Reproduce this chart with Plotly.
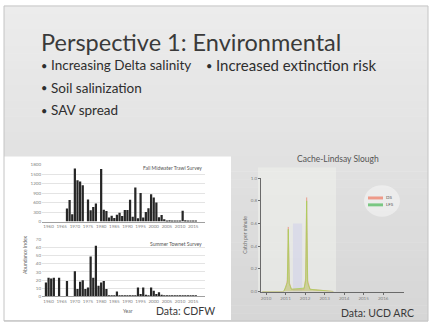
import plotly.graph_objects as go

W, H = 432, 328

# ---- Delta smelt abundance indices (CDFW) ----
fmwt_years = list(range(1967, 2017))
fmwt_index = [414, 680, 230, 1673, 1303, 1265, 1145, 0, 697, 359,
              460, 572, 0, 1654, 374, 333, 132, 182, 110, 212,
              280, 174, 366, 364, 689, 156, 1078, 102, 899, 127,
              303, 420, 864, 756, 603, 139, 210, 74, 26, 41,
              28, 23, 17, 29, 343, 42, 18, 9, 7, 8]

stn_years = list(range(1959, 2017))
stn_index = [17, 23, 22, 23, 0, 23, 0, 0, 19, 0,
             0, 31, 9, 18, 20, 9, 11, 49, 23, 62,
             13, 17, 19, 9, 0.5, 0.5, 0.5, 6, 0.5, 0.5,
             0.5, 0.5, 0.5, 0.5, 0.5, 11, 3, 11, 2, 0.5,
             11, 7, 3, 5, 2, 1.5, 0.5, 0.5, 0.5, 0.5,
             0.5, 0.5, 0.5, 0.5, 0.5, 0.5, 0.5, 0.3]

year_ticks = list(range(1960, 2020, 5))
fmwt_yticks = list(range(0, 2100, 300))
stn_yticks = list(range(0, 80, 10))

# ---- Cache-Lindsay Slough catch per minute (UCD ARC) ----
cls_t = [2009.8, 2010.9, 2011.0, 2011.09, 2011.14, 2011.19, 2011.3, 2011.95, 2012.03, 2012.08, 2012.13, 2012.25, 2013.45]
ds_cpm = [0, 0, 0.03, 0.1, 0.57, 0.08, 0.02, 0.02, 0.12, 0.83, 0.1, 0.02, 0]
lfs_cpm = [0, 0, 0.04, 0.08, 0.55, 0.07, 0.02, 0.03, 0.1, 0.8, 0.08, 0.02, 0]
other_t = [2011.38, 2011.38, 2011.85, 2011.85]
other_cpm = [0, 0.6, 0.6, 0]
cls_xticks = list(range(2010, 2017))
cls_yticks = [0.0, 0.2, 0.4, 0.6, 0.8, 1.0]

ds_color = "rgba(238,140,120,{a})"
lfs_color = "rgba(170,208,90,{a})"


def px(x):
    return x / W


def py(y):
    return 1 - y / H


fig = go.Figure()

bar_color = "#262626"
fig.add_trace(go.Bar(x=fmwt_years, y=fmwt_index, marker_color=bar_color,
                     marker_line_width=0, xaxis="x", yaxis="y", showlegend=False))
fig.add_trace(go.Bar(x=stn_years, y=stn_index, marker_color=bar_color,
                     marker_line_width=0, xaxis="x2", yaxis="y2", showlegend=False))

fig.add_trace(go.Scatter(x=other_t, y=other_cpm, mode="lines", line=dict(width=0),
                         fill="toself", fillcolor="rgba(190,190,240,0.3)",
                         xaxis="x3", yaxis="y3", showlegend=False, hoverinfo="skip"))
fig.add_trace(go.Scatter(x=cls_t, y=ds_cpm, mode="lines", name="DS",
                         line=dict(color=ds_color.format(a=0.5), width=1),
                         fill="tozeroy", fillcolor=ds_color.format(a=0.25),
                         xaxis="x3", yaxis="y3", showlegend=False))
fig.add_trace(go.Scatter(x=cls_t, y=lfs_cpm, mode="lines", name="LFS",
                         line=dict(color=lfs_color.format(a=0.8), width=1),
                         fill="tozeroy", fillcolor=lfs_color.format(a=0.4),
                         xaxis="x3", yaxis="y3", showlegend=False))

tick_font = dict(family="Lato", size=4.5, color="#808080")

fig.update_layout(
    width=W, height=H,
    margin=dict(l=0, r=0, t=0, b=0),
    paper_bgcolor="white",
    plot_bgcolor="rgba(0,0,0,0)",
    bargap=0.15,
    font=dict(family="Lato", color="#333333"),
    xaxis=dict(domain=[px(42), px(205)], range=[1957.5, 2019.5], anchor="y",
               tickvals=year_ticks, tickangle=0, tickfont=tick_font, showgrid=False,
               showline=True, linecolor="#a0a0a0", linewidth=1, ticks="", zeroline=False),
    yaxis=dict(domain=[py(223), py(165)], range=[0, 1800], anchor="x",
               tickvals=fmwt_yticks, tickfont=tick_font, gridcolor="#e4e4e4",
               gridwidth=1, zeroline=False, ticks=""),
    xaxis2=dict(domain=[px(42), px(205)], range=[1957.5, 2019.5], anchor="y2",
                tickvals=year_ticks, tickangle=0, tickfont=tick_font, showgrid=False,
                showline=True, linecolor="#a0a0a0", linewidth=1, ticks="", zeroline=False),
    yaxis2=dict(domain=[py(299), py(241)], range=[0, 70], anchor="x2",
                tickvals=stn_yticks, tickfont=tick_font, gridcolor="#e4e4e4",
                gridwidth=1, zeroline=False, ticks=""),
    xaxis3=dict(domain=[px(261), px(404)], range=[2009.74, 2017.07], anchor="y3",
                tickvals=cls_xticks, tickangle=0, tickfont=tick_font, showgrid=False,
                showline=True, linecolor="#6a6a6a", linewidth=1,
                ticks="outside", ticklen=2, tickcolor="#6a6a6a", zeroline=False),
    yaxis3=dict(domain=[py(294), py(179)], range=[0, 1.0], anchor="x3",
                tickvals=cls_yticks, tickformat=".1f", tickfont=tick_font, showgrid=False,
                showline=True, linecolor="#6a6a6a", linewidth=1,
                ticks="outside", ticklen=2, tickcolor="#6a6a6a", zeroline=False,
                title=dict(text="Catch per minute", font=dict(family="Lato", size=5, color="#707070"),
                           standoff=3)),
    showlegend=False,
)

# slide background: soft vertical gradient
shapes = []
n_bands = 40
top_y, bot_y = 4, 324
for i in range(n_bands):
    t = i / (n_bands - 1)
    c = int(round(236 - 22 * t))
    y0 = top_y + (bot_y - top_y) * i / n_bands
    y1 = top_y + (bot_y - top_y) * (i + 1) / n_bands + 0.5
    shapes.append(dict(type="rect", xref="paper", yref="paper", layer="below",
                       x0=px(4), x1=px(428), y0=py(y1), y1=py(y0),
                       fillcolor=f"rgb({c},{c},{c})", line=dict(width=0)))
# lighter panel behind the slough chart
shapes.append(dict(type="rect", xref="paper", yref="paper", layer="below",
                   x0=px(258), x1=px(336), y0=py(294), y1=py(168),
                   fillcolor="rgba(240,242,236,0.55)", line=dict(width=0)))
# white panel holding the survey charts
shapes.append(dict(type="rect", xref="paper", yref="paper", layer="below",
                   x0=px(4), x1=px(231), y0=py(323), y1=py(157),
                   fillcolor="white", line=dict(width=0)))
# legend halo and swatches for the slough chart
shapes.append(dict(type="circle", xref="paper", yref="paper", layer="below",
                   x0=px(364), x1=px(400), y0=py(218), y1=py(186),
                   fillcolor="rgba(245,245,245,0.6)", line=dict(width=0)))
legend_items = [("DS", ds_color.format(a=0.85), 199), ("LFS", "rgba(110,195,120,0.9)", 206)]
for name, col, yy in legend_items:
    shapes.append(dict(type="rect", xref="paper", yref="paper", layer="above",
                       x0=px(368), x1=px(383), y0=py(yy + 1.5), y1=py(yy - 1.5),
                       fillcolor=col, line=dict(width=0)))
# slide frame
shapes.append(dict(type="rect", xref="paper", yref="paper", layer="above",
                   x0=px(4), x1=px(428), y0=py(324), y1=py(4),
                   fillcolor="rgba(0,0,0,0)", line=dict(color="#c4c4c4", width=1)))
fig.update_layout(shapes=shapes)

ann = []


def text(x, y, s, size, color="#333333", xanchor="left", angle=0, family="Lato"):
    ann.append(dict(xref="paper", yref="paper", x=px(x), y=py(y), text=s,
                    showarrow=False, xanchor=xanchor, yanchor="middle", textangle=angle,
                    borderpad=0, font=dict(family=family, size=size, color=color)))


text(40, 41, "Perspective 1: Environmental", 23.5, "#3a3a3a")
bullet_size = 13.5
for bx, by, s, sz in [(44, 64, "Increasing Delta salinity", bullet_size),
                      (209, 64, "Increased extinction risk", 15),
                      (44, 87, "Soil salinization", bullet_size),
                      (44, 110, "SAV spread", bullet_size)]:
    text(bx, by, "•", 11, "#2e2e2e", xanchor="center")
    text(bx + 6, by, s, sz, "#2e2e2e")

text(203, 169, "Fall Midwater Trawl Survey", 5, "#555555", xanchor="right")
text(203, 246, "Summer Townet Survey", 5, "#555555", xanchor="right")
text(25, 257, "Abundance Index", 5, "#666666", xanchor="center", angle=-90)
text(128, 314, "Year", 5, "#666666", xanchor="center")
text(216, 314, "Data: CDFW", 10.5, "#3a3a3a", xanchor="right")

text(338, 159, "Cache-Lindsay Slough", 8.5, "#555555", xanchor="center")
for name, col, yy in legend_items:
    text(385, yy, name, 4.5, "#555555")
text(415, 316, "Data: UCD ARC", 10.5, "#3a3a3a", xanchor="right")

fig.update_layout(annotations=ann)

fig.write_html("out.html")
